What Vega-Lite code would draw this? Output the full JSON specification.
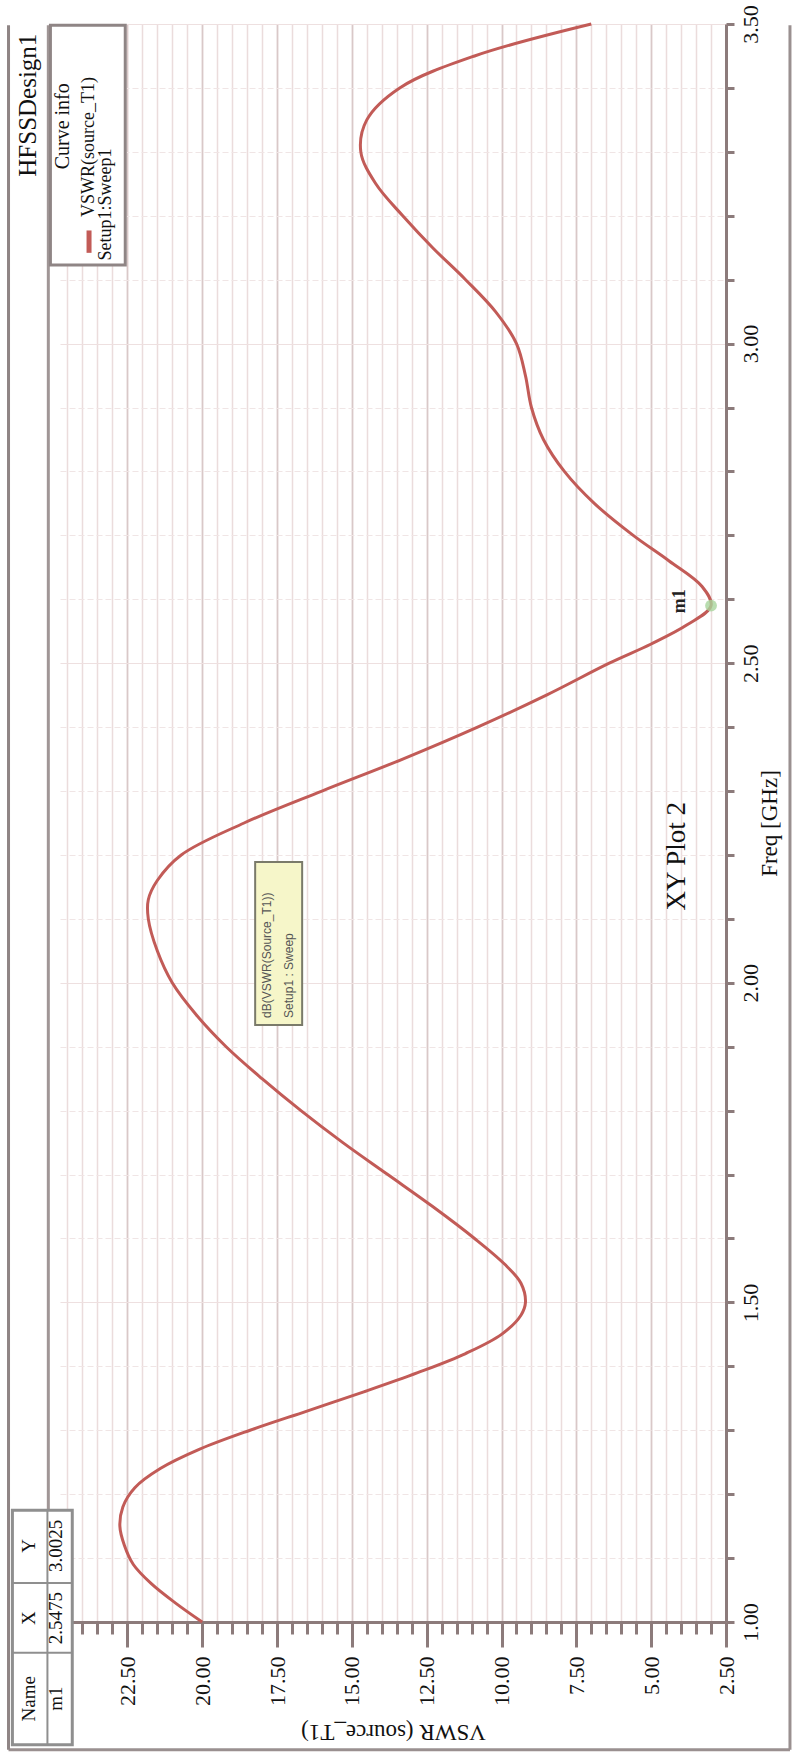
{
  "$schema": "https://vega.github.io/schema/vega-lite/v6.json",
  "width": 666,
  "height": 1598,
  "autosize": {"type": "none"},
  "padding": {"left": 60, "top": 24, "right": 67, "bottom": 131},
  "background": "white",
  "config": {"view": {"stroke": null}, "font": "Liberation Serif"},
  "datasets": {
    "curve": [
      {"freq": 1.00, "vswr": 20.0}, {"freq": 1.03, "vswr": 20.9}, {"freq": 1.06, "vswr": 21.7}, {"freq": 1.09, "vswr": 22.3},
      {"freq": 1.12, "vswr": 22.6}, {"freq": 1.15, "vswr": 22.75}, {"freq": 1.18, "vswr": 22.65}, {"freq": 1.21, "vswr": 22.25},
      {"freq": 1.24, "vswr": 21.4}, {"freq": 1.27, "vswr": 20.1}, {"freq": 1.30, "vswr": 18.4}, {"freq": 1.33, "vswr": 16.5},
      {"freq": 1.36, "vswr": 14.6}, {"freq": 1.39, "vswr": 12.8}, {"freq": 1.42, "vswr": 11.2}, {"freq": 1.45, "vswr": 10.0},
      {"freq": 1.48, "vswr": 9.35}, {"freq": 1.50, "vswr": 9.2}, {"freq": 1.53, "vswr": 9.35}, {"freq": 1.56, "vswr": 9.9},
      {"freq": 1.60, "vswr": 10.9}, {"freq": 1.65, "vswr": 12.3}, {"freq": 1.70, "vswr": 13.8}, {"freq": 1.75, "vswr": 15.3},
      {"freq": 1.80, "vswr": 16.7}, {"freq": 1.85, "vswr": 18.0}, {"freq": 1.90, "vswr": 19.2}, {"freq": 1.95, "vswr": 20.2},
      {"freq": 2.00, "vswr": 21.0}, {"freq": 2.05, "vswr": 21.5}, {"freq": 2.10, "vswr": 21.8}, {"freq": 2.13, "vswr": 21.8},
      {"freq": 2.16, "vswr": 21.5}, {"freq": 2.20, "vswr": 20.7}, {"freq": 2.25, "vswr": 18.6}, {"freq": 2.30, "vswr": 16.0},
      {"freq": 2.35, "vswr": 13.3}, {"freq": 2.40, "vswr": 10.8}, {"freq": 2.45, "vswr": 8.5}, {"freq": 2.50, "vswr": 6.4},
      {"freq": 2.53, "vswr": 5.0}, {"freq": 2.56, "vswr": 3.8}, {"freq": 2.59, "vswr": 3.0}, {"freq": 2.62, "vswr": 3.3},
      {"freq": 2.66, "vswr": 4.4}, {"freq": 2.70, "vswr": 5.6}, {"freq": 2.75, "vswr": 6.9}, {"freq": 2.80, "vswr": 7.9},
      {"freq": 2.85, "vswr": 8.6}, {"freq": 2.90, "vswr": 9.0}, {"freq": 2.95, "vswr": 9.2}, {"freq": 3.00, "vswr": 9.5},
      {"freq": 3.05, "vswr": 10.2}, {"freq": 3.10, "vswr": 11.2}, {"freq": 3.15, "vswr": 12.3}, {"freq": 3.20, "vswr": 13.3},
      {"freq": 3.25, "vswr": 14.2}, {"freq": 3.30, "vswr": 14.7}, {"freq": 3.35, "vswr": 14.5}, {"freq": 3.40, "vswr": 13.4},
      {"freq": 3.45, "vswr": 10.9}, {"freq": 3.50, "vswr": 7.0}
    ],
    "marker": [{"name": "m1", "freq": 2.59, "vswr": 3.0}]
  },
  "layer": [
    {
      "data": {"name": "curve"},
      "mark": {"type": "line", "strokeOpacity": 0},
      "encoding": {
        "x": {"field": "vswr", "type": "quantitative",
          "scale": {"domain": [2.5, 24.75], "reverse": true, "nice": false, "zero": false},
          "axis": {"orient": "bottom", "values": [3,3.5,4,4.5,5.5,6,6.5,7,8,8.5,9,9.5,10.5,11,11.5,12,13,13.5,14,14.5,15.5,16,16.5,17,18,18.5,19,19.5,20.5,21,21.5,22,23,23.5,24,24.5],
            "labels": false, "domain": false, "title": null, "tickSize": 12, "tickWidth": 3, "tickColor": "#8c7b7b",
            "grid": true, "gridColor": "#ebdcdc", "gridWidth": 1.5, "offset": 0}},
        "y": {"field": "freq", "type": "quantitative",
          "scale": {"domain": [1, 3.5], "nice": false, "zero": false},
          "axis": {"orient": "right", "values": [1.1,1.2,1.3,1.4,1.6,1.7,1.8,1.9,2.1,2.2,2.3,2.4,2.6,2.7,2.8,2.9,3.1,3.2,3.3,3.4],
            "labels": false, "domain": false, "title": null, "tickSize": 8, "tickWidth": 3, "tickColor": "#8c7b7b",
            "grid": true, "gridColor": "#f0e5e5", "gridWidth": 1.2, "gridDash": [6, 3], "offset": 0}},
        "order": {"field": "freq"}
      }
    },
    {
      "data": {"name": "curve"},
      "mark": {"type": "line", "color": "#c25b57", "strokeWidth": 3, "interpolate": "catmull-rom"},
      "encoding": {
        "x": {"field": "vswr", "type": "quantitative",
          "scale": {"domain": [2.5, 24.75], "reverse": true, "nice": false, "zero": false},
          "axis": {"orient": "bottom", "values": [2.5,5,7.5,10,12.5,15,17.5,20,22.5], "format": ".2f",
            "labelAngle": 270, "labelFont": "Liberation Serif", "labelFontSize": 22, "labelColor": "#111", "labelPadding": 9,
            "tickSize": 25, "tickWidth": 3, "tickColor": "#8c7b7b",
            "domainColor": "#8c7b7b", "domainWidth": 3,
            "grid": true, "gridColor": "#d9c8c8", "gridWidth": 1.8,
            "title": "VSWR (source_T1)", "titleAngle": 180, "titleBaseline": "bottom", "titleFont": "Liberation Serif",
            "titleFontSize": 23, "titleFontWeight": "normal", "titleColor": "#111", "titlePadding": 14, "offset": 0}},
        "y": {"field": "freq", "type": "quantitative",
          "scale": {"domain": [1, 3.5], "nice": false, "zero": false},
          "axis": {"orient": "right", "values": [1,1.5,2,2.5,3,3.5], "format": ".2f",
            "labelAngle": 270, "labelAlign": "center", "labelBaseline": "top", "labelFont": "Liberation Serif",
            "labelFontSize": 22, "labelColor": "#111", "labelPadding": 6,
            "tickSize": 8, "tickWidth": 3, "tickColor": "#8c7b7b",
            "domainColor": "#8c7b7b", "domainWidth": 3,
            "grid": true, "gridColor": "#eee0e0", "gridWidth": 1.2,
            "title": "Freq [GHz]", "titleAngle": 270, "titleBaseline": "top", "titleFont": "Liberation Serif",
            "titleFontSize": 23, "titleFontWeight": "normal", "titleColor": "#111", "titlePadding": -3, "offset": 0}},
        "order": {"field": "freq"}
      }
    },
    {
      "data": {"name": "marker"},
      "mark": {"type": "point", "filled": true, "color": "#a8d59c", "size": 140, "opacity": 0.8},
      "encoding": {
        "x": {"field": "vswr", "type": "quantitative", "axis": null},
        "y": {"field": "freq", "type": "quantitative", "axis": null}
      }
    },
    {
      "data": {"values": [{"label": "m1"}]},
      "mark": {"type": "text", "angle": 270, "fontSize": 18, "fontWeight": "bold", "font": "Liberation Serif", "color": "#222"},
      "encoding": {"x": {"datum": 4.04, "axis": null}, "y": {"datum": 2.597, "axis": null}, "text": {"field": "label"}}
    },
    {
      "data": {"values": [{"label": "XY Plot 2"}]},
      "mark": {"type": "text", "angle": 270, "fontSize": 27, "font": "Liberation Serif", "color": "#111"},
      "encoding": {"x": {"datum": 4.14, "axis": null}, "y": {"datum": 2.198, "axis": null}, "text": {"field": "label"}}
    },
    {
      "data": {"values": [{"label": "box"}]},
      "mark": {"type": "rect", "fill": "#f6f6c9", "stroke": "#7a7a6a", "strokeWidth": 2},
      "encoding": {"x": {"datum": 18.23, "axis": null}, "x2": {"datum": 16.66}, "y": {"datum": 2.189, "axis": null}, "y2": {"datum": 1.934}}
    },
    {
      "data": {"values": [{"label": "dB(VSWR(Source_T1))"}]},
      "mark": {"type": "text", "angle": 270, "align": "left", "baseline": "middle", "fontSize": 12, "font": "Liberation Sans", "color": "#555"},
      "encoding": {"x": {"datum": 17.83, "axis": null}, "y": {"datum": 1.945, "axis": null}, "text": {"field": "label"}}
    },
    {
      "data": {"values": [{"label": "Setup1 : Sweep"}]},
      "mark": {"type": "text", "angle": 270, "align": "left", "baseline": "middle", "fontSize": 12, "font": "Liberation Sans", "color": "#555"},
      "encoding": {"x": {"datum": 17.09, "axis": null}, "y": {"datum": 1.945, "axis": null}, "text": {"field": "label"}}
    },
    {
      "data": {"values": [{"label": "frame-right"}]},
      "mark": {"type": "rule", "stroke": "#9a9090", "strokeWidth": 3},
      "encoding": {"x": {"datum": 0.363, "axis": null}, "y": {"datum": 3.498, "axis": null}, "y2": {"datum": 0.8}}
    },
    {
      "data": {"values": [{"label": "frame-bottom"}]},
      "mark": {"type": "rule", "stroke": "#9a9090", "strokeWidth": 3},
      "encoding": {"x": {"datum": 26.47, "axis": null}, "x2": {"datum": 0.363}, "y": {"datum": 0.8, "axis": null}}
    },
    {
      "data": {"values": [{"label": "frame-left"}]},
      "mark": {"type": "rule", "stroke": "#8f8585", "strokeWidth": 3},
      "encoding": {"x": {"datum": 26.47, "axis": null}, "y": {"datum": 3.498, "axis": null}, "y2": {"datum": 0.8}}
    },
    {
      "data": {"values": [{"label": "frame-inner"}]},
      "mark": {"type": "rule", "stroke": "#a09696", "strokeWidth": 3},
      "encoding": {"x": {"datum": 25.14, "axis": null}, "y": {"datum": 3.498, "axis": null}, "y2": {"datum": 1.175}}
    },
    {
      "data": {"values": [{"label": "legend"}]},
      "mark": {"type": "rect", "fill": "white", "stroke": "#8f8585", "strokeWidth": 3},
      "encoding": {"x": {"datum": 25.07, "axis": null}, "x2": {"datum": 22.57}, "y": {"datum": 3.498, "axis": null}, "y2": {"datum": 3.123}}
    },
    {
      "data": {"values": [{"label": "HFSSDesign1"}]},
      "mark": {"type": "text", "angle": 270, "fontSize": 25, "font": "Liberation Serif", "color": "#111"},
      "encoding": {"x": {"datum": 25.81, "axis": null}, "y": {"datum": 3.373, "axis": null}, "text": {"field": "label"}}
    },
    {
      "data": {"values": [{"label": "Curve info"}]},
      "mark": {"type": "text", "angle": 270, "fontSize": 20, "font": "Liberation Serif", "color": "#111"},
      "encoding": {"x": {"datum": 24.64, "axis": null}, "y": {"datum": 3.34, "axis": null}, "text": {"field": "label"}}
    },
    {
      "data": {"values": [{"label": "sample"}]},
      "mark": {"type": "rule", "stroke": "#c25b57", "strokeWidth": 5},
      "encoding": {"x": {"datum": 23.78, "axis": null}, "y": {"datum": 3.177, "axis": null}, "y2": {"datum": 3.142}}
    },
    {
      "data": {"values": [{"label": "VSWR(source_T1)"}]},
      "mark": {"type": "text", "angle": 270, "align": "left", "baseline": "middle", "fontSize": 18, "font": "Liberation Serif", "color": "#111"},
      "encoding": {"x": {"datum": 23.78, "axis": null}, "y": {"datum": 3.198, "axis": null}, "text": {"field": "label"}}
    },
    {
      "data": {"values": [{"label": "Setup1:Sweep1"}]},
      "mark": {"type": "text", "angle": 270, "align": "left", "baseline": "middle", "fontSize": 18, "font": "Liberation Serif", "color": "#111"},
      "encoding": {"x": {"datum": 23.2, "axis": null}, "y": {"datum": 3.13, "axis": null}, "text": {"field": "label"}}
    },
    {
      "data": {"values": [{"label": "table"}]},
      "mark": {"type": "rect", "fill": "white", "stroke": "#8f8f8f", "strokeWidth": 3},
      "encoding": {"x": {"datum": 26.34, "axis": null}, "x2": {"datum": 24.34}, "y": {"datum": 1.175, "axis": null}, "y2": {"datum": 0.808}}
    },
    {
      "data": {"values": [{"label": "col"}]},
      "mark": {"type": "rule", "stroke": "#8f8f8f", "strokeWidth": 2},
      "encoding": {"x": {"datum": 25.17, "axis": null}, "y": {"datum": 1.175, "axis": null}, "y2": {"datum": 0.808}}
    },
    {
      "data": {"values": [{"label": "row1"}]},
      "mark": {"type": "rule", "stroke": "#8f8f8f", "strokeWidth": 2},
      "encoding": {"x": {"datum": 26.34, "axis": null}, "x2": {"datum": 24.34}, "y": {"datum": 1.061, "axis": null}}
    },
    {
      "data": {"values": [{"label": "row2"}]},
      "mark": {"type": "rule", "stroke": "#8f8f8f", "strokeWidth": 2},
      "encoding": {"x": {"datum": 26.34, "axis": null}, "x2": {"datum": 24.34}, "y": {"datum": 0.952, "axis": null}}
    },
    {
      "data": {"values": [{"label": "Name"}]},
      "mark": {"type": "text", "angle": 270, "fontSize": 19, "font": "Liberation Serif", "color": "#111"},
      "encoding": {"x": {"datum": 25.77, "axis": null}, "y": {"datum": 0.88, "axis": null}, "text": {"field": "label"}}
    },
    {
      "data": {"values": [{"label": "m1"}]},
      "mark": {"type": "text", "angle": 270, "fontSize": 19, "font": "Liberation Serif", "color": "#111"},
      "encoding": {"x": {"datum": 24.87, "axis": null}, "y": {"datum": 0.88, "axis": null}, "text": {"field": "label"}}
    },
    {
      "data": {"values": [{"label": "X"}]},
      "mark": {"type": "text", "angle": 270, "fontSize": 19, "font": "Liberation Serif", "color": "#111"},
      "encoding": {"x": {"datum": 25.77, "axis": null}, "y": {"datum": 1.006, "axis": null}, "text": {"field": "label"}}
    },
    {
      "data": {"values": [{"label": "2.5475"}]},
      "mark": {"type": "text", "angle": 270, "fontSize": 19, "font": "Liberation Serif", "color": "#111"},
      "encoding": {"x": {"datum": 24.87, "axis": null}, "y": {"datum": 1.006, "axis": null}, "text": {"field": "label"}}
    },
    {
      "data": {"values": [{"label": "Y"}]},
      "mark": {"type": "text", "angle": 270, "fontSize": 19, "font": "Liberation Serif", "color": "#111"},
      "encoding": {"x": {"datum": 25.77, "axis": null}, "y": {"datum": 1.119, "axis": null}, "text": {"field": "label"}}
    },
    {
      "data": {"values": [{"label": "3.0025"}]},
      "mark": {"type": "text", "angle": 270, "fontSize": 19, "font": "Liberation Serif", "color": "#111"},
      "encoding": {"x": {"datum": 24.87, "axis": null}, "y": {"datum": 1.119, "axis": null}, "text": {"field": "label"}}
    }
  ],
  "resolve": {"axis": {"x": "independent", "y": "independent"}}
}
